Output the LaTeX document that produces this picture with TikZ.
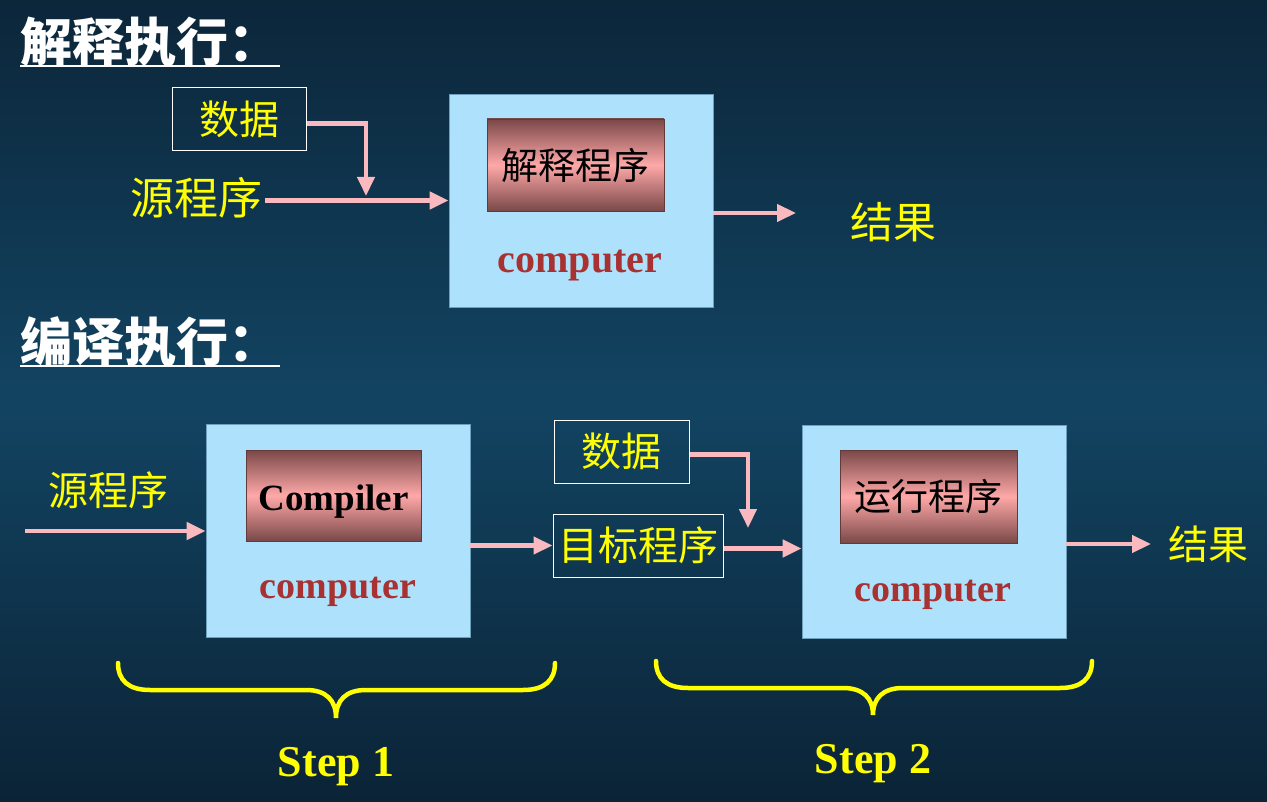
\documentclass[tikz,border=0pt]{standalone}
\usepackage{fontspec}
\usetikzlibrary{arrows.meta}
\setmainfont{Liberation Serif}
\newfontfamily\cjk{Noto Sans CJK SC}
\definecolor{bgtop}{RGB}{12,38,58}
\definecolor{bgmid}{RGB}{18,68,98}
\definecolor{bgbot}{RGB}{11,35,54}
\definecolor{boxblue}{RGB}{174,226,252}
\definecolor{boxedge}{RGB}{110,160,190}
\definecolor{pinkline}{RGB}{250,185,190}
\definecolor{innerpink}{RGB}{255,168,168}
\definecolor{innerdark}{RGB}{122,72,72}
\definecolor{comptext}{RGB}{168,50,50}
\definecolor{yel}{RGB}{255,255,0}
\newcommand{\fs}[1]{\fontsize{#1}{#1}\selectfont}
\tikzset{
  compbox/.style={draw=boxedge, line width=0.8pt, fill=boxblue, minimum width=264pt, minimum height=213pt, inner sep=0pt},
  innerbox/.style={draw=innerdark!80!black, line width=0.5pt, top color=innerdark, bottom color=innerdark, middle color=innerpink, inner sep=0pt},
  comptxt/.style={text=comptext, font=\fs{38}\bfseries, inner sep=0pt},
  ylabel/.style={text=yel, font=\cjk\fs{40}, inner sep=3pt},
  framebox/.style={draw=white, line width=1pt, minimum height=63pt, inner sep=0pt, text=yel, font=\cjk\fs{40}},
  flow/.style={draw=pinkline, line width=4.5pt, -{Triangle[length=19pt,width=17pt]}},
  bracestyle/.style={draw=yel, line width=4.5pt, line cap=round},
  titlestyle/.style={text=white, font=\cjk\bfseries\fs{52}, inner sep=0pt, anchor=base west},
  underl/.style={draw=white, line width=2.5pt},
  steptxt/.style={text=yel, font=\fs{44}\bfseries, inner sep=0pt}
}
\begin{document}
\begin{tikzpicture}[x=1pt,y=-1pt]
\fill[top color=bgtop, bottom color=bgbot, middle color=bgmid] (0,0) rectangle (1267,802);
\useasboundingbox (0,0) rectangle (1267,802);

% ---------- interpretation ----------
\node[titlestyle] (t1) at (20,62) {解释执行：};
\draw[underl] ([yshift=-4pt]t1.base west) -- ([yshift=-4pt]t1.base east);

\node[framebox, minimum width=134pt] (data1) at (239,119.5) {数据};
\node[ylabel, font=\cjk\fs{44}] (src1) at (196,198) {源程序};
\node[compbox] (box1) at (581,200.5) {};
\node[innerbox, minimum width=177pt, minimum height=92pt, font=\cjk\fs{37}] (in1) at (575.5,165) {解释程序};
\node[comptxt, font=\fs{40}\bfseries] (c1) at (580,265) {computer};
\node[ylabel, font=\cjk\fs{43}] (res1) at (893,222) {结果};
\coordinate (d1end) at (366,196);
\coordinate (r1end) at (796,213);

\draw[flow] (src1.east |- box1.west) -- (box1.west);
\draw[flow] ([yshift=-4pt]data1.east) -| (d1end);
\draw[flow] ([yshift=-12.5pt]box1.east) -- (r1end);

% ---------- compilation ----------
\node[titlestyle] (t2) at (20,362) {编译执行：};
\draw[underl] ([yshift=-4pt]t2.base west) -- ([yshift=-4pt]t2.base east);

\node[ylabel] (src2) at (108,490) {源程序};
\node[compbox] (box2) at (338,530.5) {};
\node[innerbox, minimum width=175pt, minimum height=91pt, font=\fs{37}\bfseries, text depth=0pt] (in2) at (333.5,495.5) {\raisebox{-5pt}{Compiler}};
\node[comptxt] (c2) at (338,592) {computer};

\node[framebox, minimum width=135pt] (data2) at (621.5,451.5) {数据};
\node[framebox, minimum width=170pt] (tgt) at (638,545.5) {目标程序};

\node[compbox] (box3) at (934,531.5) {};
\node[innerbox, minimum width=177pt, minimum height=93pt, font=\cjk\fs{37}] (in3) at (928.5,496.5) {运行程序};
\node[comptxt] (c3) at (933,595) {computer};
\node[ylabel] (res2) at (1208,544) {结果};

\coordinate (s2start) at (25,531);
\coordinate (d2end) at (748,528);
\coordinate (r2end) at (1151,544);

\draw[flow] (s2start) -- (s2start -| box2.west);
\draw[flow] (box2.east |- tgt.west) -- (tgt.west);
\draw[flow] ([yshift=-3pt]data2.east) -| (d2end);
\draw[flow] ([yshift=-3pt]tgt.east) -- ([yshift=-3pt]tgt.east -| box3.west);
\draw[flow] ([yshift=-12.5pt]box3.east) -- (r2end);

% ---------- braces ----------
\draw[bracestyle] (118,663) .. controls (118,680) and (128,690) .. (150,690)
  -- (306,690) .. controls (326,690) and (336,700) .. (336,718)
  .. controls (336,700) and (346,690) .. (366,690)
  -- (523,690) .. controls (545,690) and (555,680) .. (555,663);
\draw[bracestyle] (656,661) .. controls (656,678) and (666,688) .. (688,688)
  -- (843,688) .. controls (863,688) and (873,698) .. (873,715)
  .. controls (873,698) and (883,688) .. (903,688)
  -- (1060,688) .. controls (1082,688) and (1092,678) .. (1092,661);

\node[steptxt] (st1) at (336,767) {Step 1};
\node[steptxt] (st2) at (873,764) {Step 2};
\end{tikzpicture}
\end{document}
